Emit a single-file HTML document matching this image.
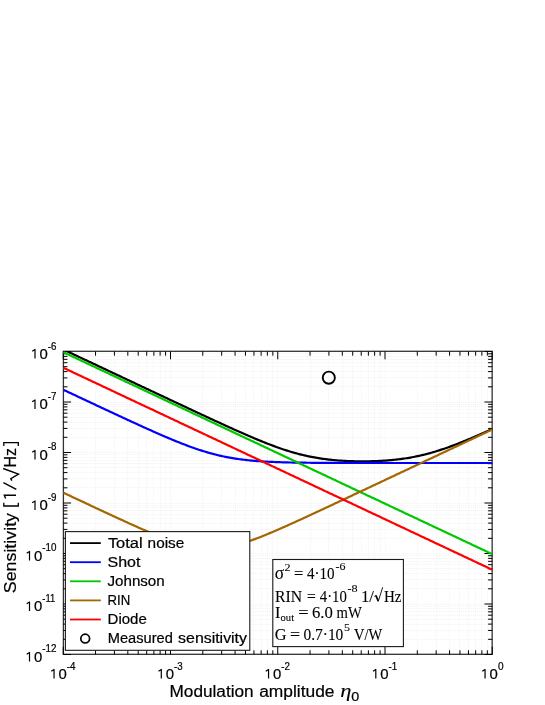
<!DOCTYPE html><html><head><meta charset="utf-8"><style>html,body{margin:0;padding:0;background:#fff;overflow:hidden}svg{display:block;will-change:transform}text{font-family:"Liberation Sans",sans-serif;fill:#000;white-space:pre;stroke:#000;stroke-width:0.2px}.s{font-family:"Liberation Serif",serif;stroke-width:0.1px}</style></head><body>
<svg width="545" height="705" viewBox="0 0 545 705">
<rect width="545" height="705" fill="#fff"/>
<defs><clipPath id="c"><rect x="63.25" y="350.90" width="429.60" height="303.60"/></clipPath></defs>
<path d="M63.50,351.50 V654.50 M95.50,351.50 V654.50 M114.50,351.50 V654.50 M127.50,351.50 V654.50 M138.50,351.50 V654.50 M146.50,351.50 V654.50 M153.50,351.50 V654.50 M160.50,351.50 V654.50 M165.50,351.50 V654.50 M170.50,351.50 V654.50 M202.50,351.50 V654.50 M221.50,351.50 V654.50 M235.50,351.50 V654.50 M245.50,351.50 V654.50 M253.50,351.50 V654.50 M261.50,351.50 V654.50 M267.50,351.50 V654.50 M272.50,351.50 V654.50 M277.50,351.50 V654.50 M310.50,351.50 V654.50 M328.50,351.50 V654.50 M342.50,351.50 V654.50 M352.50,351.50 V654.50 M361.50,351.50 V654.50 M368.50,351.50 V654.50 M374.50,351.50 V654.50 M380.50,351.50 V654.50 M385.50,351.50 V654.50 M417.50,351.50 V654.50 M436.50,351.50 V654.50 M449.50,351.50 V654.50 M459.50,351.50 V654.50 M468.50,351.50 V654.50 M475.50,351.50 V654.50 M481.50,351.50 V654.50 M487.50,351.50 V654.50 M492.50,351.50 V654.50 M63.25,654.50 H492.25 M63.25,639.50 H492.25 M63.25,630.50 H492.25 M63.25,624.50 H492.25 M63.25,619.50 H492.25 M63.25,615.50 H492.25 M63.25,611.50 H492.25 M63.25,608.50 H492.25 M63.25,606.50 H492.25 M63.25,604.50 H492.25 M63.25,588.50 H492.25 M63.25,579.50 H492.25 M63.25,573.50 H492.25 M63.25,568.50 H492.25 M63.25,564.50 H492.25 M63.25,561.50 H492.25 M63.25,558.50 H492.25 M63.25,555.50 H492.25 M63.25,553.50 H492.25 M63.25,538.50 H492.25 M63.25,529.50 H492.25 M63.25,523.50 H492.25 M63.25,518.50 H492.25 M63.25,514.50 H492.25 M63.25,510.50 H492.25 M63.25,507.50 H492.25 M63.25,505.50 H492.25 M63.25,503.50 H492.25 M63.25,487.50 H492.25 M63.25,478.50 H492.25 M63.25,472.50 H492.25 M63.25,467.50 H492.25 M63.25,463.50 H492.25 M63.25,460.50 H492.25 M63.25,457.50 H492.25 M63.25,454.50 H492.25 M63.25,452.50 H492.25 M63.25,437.50 H492.25 M63.25,428.50 H492.25 M63.25,422.50 H492.25 M63.25,417.50 H492.25 M63.25,413.50 H492.25 M63.25,409.50 H492.25 M63.25,406.50 H492.25 M63.25,404.50 H492.25 M63.25,402.50 H492.25 M63.25,386.50 H492.25 M63.25,377.50 H492.25 M63.25,371.50 H492.25 M63.25,366.50 H492.25 M63.25,362.50 H492.25 M63.25,359.50 H492.25 M63.25,356.50 H492.25 M63.25,353.50 H492.25 M63.25,351.50 H492.25" stroke="#f2f2f2" stroke-width="1" stroke-dasharray="1,1" fill="none"/>
<circle cx="328.8" cy="377.7" r="6.05" fill="none" stroke="#000" stroke-width="1.9"/>
<rect x="63.4" y="351.3" width="428.75" height="303.0" fill="none" stroke="#333" stroke-width="1.3"/>
<path d="M63.25,654.50 v-7.80 M63.25,351.50 v7.80 M95.54,654.50 v-4.20 M95.54,351.50 v4.20 M114.42,654.50 v-4.20 M114.42,351.50 v4.20 M127.82,654.50 v-4.20 M127.82,351.50 v4.20 M138.21,654.50 v-4.20 M138.21,351.50 v4.20 M146.71,654.50 v-4.20 M146.71,351.50 v4.20 M153.89,654.50 v-4.20 M153.89,351.50 v4.20 M160.11,654.50 v-4.20 M160.11,351.50 v4.20 M165.59,654.50 v-4.20 M165.59,351.50 v4.20 M170.50,654.50 v-7.80 M170.50,351.50 v7.80 M202.79,654.50 v-4.20 M202.79,351.50 v4.20 M221.67,654.50 v-4.20 M221.67,351.50 v4.20 M235.07,654.50 v-4.20 M235.07,351.50 v4.20 M245.46,654.50 v-4.20 M245.46,351.50 v4.20 M253.96,654.50 v-4.20 M253.96,351.50 v4.20 M261.14,654.50 v-4.20 M261.14,351.50 v4.20 M267.36,654.50 v-4.20 M267.36,351.50 v4.20 M272.84,654.50 v-4.20 M272.84,351.50 v4.20 M277.75,654.50 v-7.80 M277.75,351.50 v7.80 M310.04,654.50 v-4.20 M310.04,351.50 v4.20 M328.92,654.50 v-4.20 M328.92,351.50 v4.20 M342.32,654.50 v-4.20 M342.32,351.50 v4.20 M352.71,654.50 v-4.20 M352.71,351.50 v4.20 M361.21,654.50 v-4.20 M361.21,351.50 v4.20 M368.39,654.50 v-4.20 M368.39,351.50 v4.20 M374.61,654.50 v-4.20 M374.61,351.50 v4.20 M380.09,654.50 v-4.20 M380.09,351.50 v4.20 M385.00,654.50 v-7.80 M385.00,351.50 v7.80 M417.29,654.50 v-4.20 M417.29,351.50 v4.20 M436.17,654.50 v-4.20 M436.17,351.50 v4.20 M449.57,654.50 v-4.20 M449.57,351.50 v4.20 M459.96,654.50 v-4.20 M459.96,351.50 v4.20 M468.46,654.50 v-4.20 M468.46,351.50 v4.20 M475.64,654.50 v-4.20 M475.64,351.50 v4.20 M481.86,654.50 v-4.20 M481.86,351.50 v4.20 M487.34,654.50 v-4.20 M487.34,351.50 v4.20 M492.25,654.50 v-7.80 M492.25,351.50 v7.80 M63.25,654.50 h7.80 M492.25,654.50 h-7.80 M63.25,639.30 h4.20 M492.25,639.30 h-4.20 M63.25,630.41 h4.20 M492.25,630.41 h-4.20 M63.25,624.10 h4.20 M492.25,624.10 h-4.20 M63.25,619.20 h4.20 M492.25,619.20 h-4.20 M63.25,615.20 h4.20 M492.25,615.20 h-4.20 M63.25,611.82 h4.20 M492.25,611.82 h-4.20 M63.25,608.89 h4.20 M492.25,608.89 h-4.20 M63.25,606.31 h4.20 M492.25,606.31 h-4.20 M63.25,604.00 h7.80 M492.25,604.00 h-7.80 M63.25,588.80 h4.20 M492.25,588.80 h-4.20 M63.25,579.91 h4.20 M492.25,579.91 h-4.20 M63.25,573.60 h4.20 M492.25,573.60 h-4.20 M63.25,568.70 h4.20 M492.25,568.70 h-4.20 M63.25,564.70 h4.20 M492.25,564.70 h-4.20 M63.25,561.32 h4.20 M492.25,561.32 h-4.20 M63.25,558.39 h4.20 M492.25,558.39 h-4.20 M63.25,555.81 h4.20 M492.25,555.81 h-4.20 M63.25,553.50 h7.80 M492.25,553.50 h-7.80 M63.25,538.30 h4.20 M492.25,538.30 h-4.20 M63.25,529.41 h4.20 M492.25,529.41 h-4.20 M63.25,523.10 h4.20 M492.25,523.10 h-4.20 M63.25,518.20 h4.20 M492.25,518.20 h-4.20 M63.25,514.20 h4.20 M492.25,514.20 h-4.20 M63.25,510.82 h4.20 M492.25,510.82 h-4.20 M63.25,507.89 h4.20 M492.25,507.89 h-4.20 M63.25,505.31 h4.20 M492.25,505.31 h-4.20 M63.25,503.00 h7.80 M492.25,503.00 h-7.80 M63.25,487.80 h4.20 M492.25,487.80 h-4.20 M63.25,478.91 h4.20 M492.25,478.91 h-4.20 M63.25,472.60 h4.20 M492.25,472.60 h-4.20 M63.25,467.70 h4.20 M492.25,467.70 h-4.20 M63.25,463.70 h4.20 M492.25,463.70 h-4.20 M63.25,460.32 h4.20 M492.25,460.32 h-4.20 M63.25,457.39 h4.20 M492.25,457.39 h-4.20 M63.25,454.81 h4.20 M492.25,454.81 h-4.20 M63.25,452.50 h7.80 M492.25,452.50 h-7.80 M63.25,437.30 h4.20 M492.25,437.30 h-4.20 M63.25,428.41 h4.20 M492.25,428.41 h-4.20 M63.25,422.10 h4.20 M492.25,422.10 h-4.20 M63.25,417.20 h4.20 M492.25,417.20 h-4.20 M63.25,413.20 h4.20 M492.25,413.20 h-4.20 M63.25,409.82 h4.20 M492.25,409.82 h-4.20 M63.25,406.89 h4.20 M492.25,406.89 h-4.20 M63.25,404.31 h4.20 M492.25,404.31 h-4.20 M63.25,402.00 h7.80 M492.25,402.00 h-7.80 M63.25,386.80 h4.20 M492.25,386.80 h-4.20 M63.25,377.91 h4.20 M492.25,377.91 h-4.20 M63.25,371.60 h4.20 M492.25,371.60 h-4.20 M63.25,366.70 h4.20 M492.25,366.70 h-4.20 M63.25,362.70 h4.20 M492.25,362.70 h-4.20 M63.25,359.32 h4.20 M492.25,359.32 h-4.20 M63.25,356.39 h4.20 M492.25,356.39 h-4.20 M63.25,353.81 h4.20 M492.25,353.81 h-4.20 M63.25,351.50 h7.80 M492.25,351.50 h-7.80" stroke="#000" stroke-width="1" fill="none"/>
<g clip-path="url(#c)" fill="none" stroke-width="2.2" stroke-linejoin="round">
<path d="M63.25,349.51 L64.68,350.18 L66.12,350.86 L67.55,351.54 L68.99,352.21 L70.42,352.89 L71.86,353.56 L73.29,354.24 L74.73,354.91 L76.16,355.59 L77.60,356.26 L79.03,356.94 L80.47,357.62 L81.90,358.29 L83.34,358.97 L84.77,359.64 L86.21,360.32 L87.64,360.99 L89.08,361.67 L90.51,362.34 L91.95,363.02 L93.38,363.70 L94.82,364.37 L96.25,365.05 L97.68,365.72 L99.12,366.40 L100.55,367.07 L101.99,367.75 L103.42,368.42 L104.86,369.10 L106.29,369.77 L107.73,370.45 L109.16,371.13 L110.60,371.80 L112.03,372.48 L113.47,373.15 L114.90,373.83 L116.34,374.50 L117.77,375.18 L119.21,375.85 L120.64,376.53 L122.08,377.20 L123.51,377.88 L124.95,378.55 L126.38,379.23 L127.82,379.91 L129.25,380.58 L130.68,381.26 L132.12,381.93 L133.55,382.61 L134.99,383.28 L136.42,383.96 L137.86,384.63 L139.29,385.31 L140.73,385.98 L142.16,386.66 L143.60,387.33 L145.03,388.01 L146.47,388.68 L147.90,389.36 L149.34,390.03 L150.77,390.70 L152.21,391.38 L153.64,392.05 L155.08,392.73 L156.51,393.40 L157.95,394.08 L159.38,394.75 L160.82,395.43 L162.25,396.10 L163.68,396.77 L165.12,397.45 L166.55,398.12 L167.99,398.80 L169.42,399.47 L170.86,400.14 L172.29,400.82 L173.73,401.49 L175.16,402.16 L176.60,402.83 L178.03,403.51 L179.47,404.18 L180.90,404.85 L182.34,405.52 L183.77,406.20 L185.21,406.87 L186.64,407.54 L188.08,408.21 L189.51,408.88 L190.95,409.55 L192.38,410.22 L193.82,410.89 L195.25,411.56 L196.68,412.23 L198.12,412.90 L199.55,413.57 L200.99,414.24 L202.42,414.90 L203.86,415.57 L205.29,416.24 L206.73,416.90 L208.16,417.57 L209.60,418.23 L211.03,418.90 L212.47,419.56 L213.90,420.22 L215.34,420.88 L216.77,421.54 L218.21,422.20 L219.64,422.86 L221.08,423.52 L222.51,424.18 L223.95,424.83 L225.38,425.49 L226.82,426.14 L228.25,426.79 L229.68,427.44 L231.12,428.09 L232.55,428.73 L233.99,429.38 L235.42,430.02 L236.86,430.66 L238.29,431.30 L239.73,431.94 L241.16,432.57 L242.60,433.21 L244.03,433.84 L245.47,434.46 L246.90,435.09 L248.34,435.71 L249.77,436.33 L251.21,436.94 L252.64,437.55 L254.08,438.16 L255.51,438.76 L256.95,439.36 L258.38,439.95 L259.82,440.55 L261.25,441.13 L262.68,441.71 L264.12,442.29 L265.55,442.86 L266.99,443.42 L268.42,443.98 L269.86,444.53 L271.29,445.08 L272.73,445.62 L274.16,446.15 L275.60,446.68 L277.03,447.20 L278.47,447.71 L279.90,448.21 L281.34,448.71 L282.77,449.19 L284.21,449.67 L285.64,450.14 L287.08,450.60 L288.51,451.05 L289.95,451.49 L291.38,451.93 L292.82,452.35 L294.25,452.76 L295.68,453.16 L297.12,453.56 L298.55,453.94 L299.99,454.31 L301.42,454.67 L302.86,455.02 L304.29,455.36 L305.73,455.69 L307.16,456.00 L308.60,456.31 L310.03,456.61 L311.47,456.90 L312.90,457.17 L314.34,457.44 L315.77,457.69 L317.21,457.94 L318.64,458.17 L320.08,458.39 L321.51,458.61 L322.95,458.81 L324.38,459.01 L325.82,459.19 L327.25,459.37 L328.68,459.54 L330.12,459.70 L331.55,459.85 L332.99,459.99 L334.42,460.13 L335.86,460.25 L337.29,460.37 L338.73,460.48 L340.16,460.58 L341.60,460.68 L343.03,460.77 L344.47,460.85 L345.90,460.92 L347.34,460.99 L348.77,461.05 L350.21,461.11 L351.64,461.16 L353.08,461.20 L354.51,461.24 L355.95,461.27 L357.38,461.29 L358.82,461.31 L360.25,461.32 L361.68,461.33 L363.12,461.33 L364.55,461.33 L365.99,461.32 L367.42,461.30 L368.86,461.28 L370.29,461.25 L371.73,461.22 L373.16,461.18 L374.60,461.13 L376.03,461.08 L377.47,461.02 L378.90,460.96 L380.34,460.88 L381.77,460.80 L383.21,460.72 L384.64,460.63 L386.08,460.53 L387.51,460.42 L388.95,460.31 L390.38,460.18 L391.82,460.05 L393.25,459.91 L394.68,459.77 L396.12,459.61 L397.55,459.45 L398.99,459.28 L400.42,459.09 L401.86,458.90 L403.29,458.70 L404.73,458.49 L406.16,458.27 L407.60,458.04 L409.03,457.80 L410.47,457.55 L411.90,457.29 L413.34,457.02 L414.77,456.74 L416.21,456.45 L417.64,456.14 L419.08,455.83 L420.51,455.51 L421.95,455.17 L423.38,454.83 L424.82,454.47 L426.25,454.10 L427.68,453.73 L429.12,453.34 L430.55,452.94 L431.99,452.53 L433.42,452.12 L434.86,451.69 L436.29,451.25 L437.73,450.80 L439.16,450.35 L440.60,449.88 L442.03,449.41 L443.47,448.93 L444.90,448.43 L446.34,447.93 L447.77,447.43 L449.21,446.91 L450.64,446.39 L452.08,445.86 L453.51,445.32 L454.95,444.78 L456.38,444.23 L457.82,443.67 L459.25,443.11 L460.68,442.54 L462.12,441.97 L463.55,441.39 L464.99,440.81 L466.42,440.22 L467.86,439.63 L469.29,439.03 L470.73,438.43 L472.16,437.82 L473.60,437.21 L475.03,436.60 L476.47,435.98 L477.90,435.36 L479.34,434.74 L480.77,434.12 L482.21,433.49 L483.64,432.86 L485.08,432.22 L486.51,431.59 L487.95,430.95 L489.38,430.31 L490.82,429.67 L492.25,429.02" stroke="#000"/>
<path d="M63.25,389.71 L64.68,390.39 L66.12,391.06 L67.55,391.74 L68.99,392.41 L70.42,393.09 L71.86,393.76 L73.29,394.43 L74.73,395.11 L76.16,395.78 L77.60,396.46 L79.03,397.13 L80.47,397.80 L81.90,398.48 L83.34,399.15 L84.77,399.83 L86.21,400.50 L87.64,401.17 L89.08,401.85 L90.51,402.52 L91.95,403.19 L93.38,403.86 L94.82,404.54 L96.25,405.21 L97.68,405.88 L99.12,406.55 L100.55,407.22 L101.99,407.89 L103.42,408.57 L104.86,409.24 L106.29,409.91 L107.73,410.58 L109.16,411.25 L110.60,411.92 L112.03,412.59 L113.47,413.25 L114.90,413.92 L116.34,414.59 L117.77,415.26 L119.21,415.92 L120.64,416.59 L122.08,417.25 L123.51,417.92 L124.95,418.58 L126.38,419.25 L127.82,419.91 L129.25,420.57 L130.68,421.23 L132.12,421.89 L133.55,422.55 L134.99,423.21 L136.42,423.87 L137.86,424.52 L139.29,425.18 L140.73,425.83 L142.16,426.48 L143.60,427.13 L145.03,427.78 L146.47,428.43 L147.90,429.08 L149.34,429.72 L150.77,430.36 L152.21,431.00 L153.64,431.64 L155.08,432.28 L156.51,432.91 L157.95,433.54 L159.38,434.17 L160.82,434.79 L162.25,435.42 L163.68,436.04 L165.12,436.65 L166.55,437.26 L167.99,437.87 L169.42,438.48 L170.86,439.08 L172.29,439.68 L173.73,440.27 L175.16,440.86 L176.60,441.44 L178.03,442.02 L179.47,442.59 L180.90,443.16 L182.34,443.72 L183.77,444.28 L185.21,444.83 L186.64,445.37 L188.08,445.91 L189.51,446.44 L190.95,446.96 L192.38,447.48 L193.82,447.98 L195.25,448.48 L196.68,448.97 L198.12,449.46 L199.55,449.93 L200.99,450.40 L202.42,450.85 L203.86,451.30 L205.29,451.74 L206.73,452.17 L208.16,452.59 L209.60,453.00 L211.03,453.39 L212.47,453.78 L213.90,454.16 L215.34,454.53 L216.77,454.89 L218.21,455.24 L219.64,455.57 L221.08,455.90 L222.51,456.22 L223.95,456.52 L225.38,456.82 L226.82,457.10 L228.25,457.38 L229.68,457.64 L231.12,457.90 L232.55,458.14 L233.99,458.38 L235.42,458.61 L236.86,458.83 L238.29,459.03 L239.73,459.23 L241.16,459.43 L242.60,459.61 L244.03,459.78 L245.47,459.95 L246.90,460.11 L248.34,460.26 L249.77,460.41 L251.21,460.55 L252.64,460.68 L254.08,460.80 L255.51,460.92 L256.95,461.03 L258.38,461.14 L259.82,461.24 L261.25,461.34 L262.68,461.43 L264.12,461.52 L265.55,461.60 L266.99,461.68 L268.42,461.75 L269.86,461.82 L271.29,461.89 L272.73,461.95 L274.16,462.01 L275.60,462.07 L277.03,462.12 L278.47,462.17 L279.90,462.22 L281.34,462.26 L282.77,462.30 L284.21,462.34 L285.64,462.38 L287.08,462.41 L288.51,462.45 L289.95,462.48 L291.38,462.51 L292.82,462.54 L294.25,462.56 L295.68,462.59 L297.12,462.61 L298.55,462.63 L299.99,462.65 L301.42,462.67 L302.86,462.69 L304.29,462.71 L305.73,462.72 L307.16,462.74 L308.60,462.75 L310.03,462.77 L311.47,462.78 L312.90,462.79 L314.34,462.80 L315.77,462.81 L317.21,462.82 L318.64,462.83 L320.08,462.84 L321.51,462.85 L322.95,462.86 L324.38,462.87 L325.82,462.87 L327.25,462.88 L328.68,462.89 L330.12,462.89 L331.55,462.90 L332.99,462.90 L334.42,462.91 L335.86,462.91 L337.29,462.92 L338.73,462.92 L340.16,462.92 L341.60,462.93 L343.03,462.93 L344.47,462.93 L345.90,462.94 L347.34,462.94 L348.77,462.94 L350.21,462.95 L351.64,462.95 L353.08,462.95 L354.51,462.95 L355.95,462.95 L357.38,462.96 L358.82,462.96 L360.25,462.96 L361.68,462.96 L363.12,462.96 L364.55,462.96 L365.99,462.96 L367.42,462.97 L368.86,462.97 L370.29,462.97 L371.73,462.97 L373.16,462.97 L374.60,462.97 L376.03,462.97 L377.47,462.97 L378.90,462.97 L380.34,462.97 L381.77,462.97 L383.21,462.97 L384.64,462.98 L386.08,462.98 L387.51,462.98 L388.95,462.98 L390.38,462.98 L391.82,462.98 L393.25,462.98 L394.68,462.98 L396.12,462.98 L397.55,462.98 L398.99,462.98 L400.42,462.98 L401.86,462.98 L403.29,462.98 L404.73,462.98 L406.16,462.98 L407.60,462.98 L409.03,462.98 L410.47,462.98 L411.90,462.98 L413.34,462.98 L414.77,462.98 L416.21,462.98 L417.64,462.98 L419.08,462.98 L420.51,462.98 L421.95,462.98 L423.38,462.98 L424.82,462.98 L426.25,462.98 L427.68,462.98 L429.12,462.98 L430.55,462.98 L431.99,462.98 L433.42,462.98 L434.86,462.98 L436.29,462.98 L437.73,462.98 L439.16,462.98 L440.60,462.98 L442.03,462.98 L443.47,462.98 L444.90,462.98 L446.34,462.98 L447.77,462.98 L449.21,462.98 L450.64,462.98 L452.08,462.98 L453.51,462.98 L454.95,462.98 L456.38,462.98 L457.82,462.98 L459.25,462.98 L460.68,462.98 L462.12,462.98 L463.55,462.98 L464.99,462.98 L466.42,462.98 L467.86,462.98 L469.29,462.98 L470.73,462.98 L472.16,462.98 L473.60,462.98 L475.03,462.98 L476.47,462.98 L477.90,462.98 L479.34,462.98 L480.77,462.98 L482.21,462.98 L483.64,462.98 L485.08,462.98 L486.51,462.98 L487.95,462.98 L489.38,462.98 L490.82,462.98 L492.25,462.98" stroke="#0000ff"/>
<path d="M63.25,352.17 L64.68,352.84 L66.12,353.52 L67.55,354.19 L68.99,354.87 L70.42,355.55 L71.86,356.22 L73.29,356.90 L74.73,357.57 L76.16,358.25 L77.60,358.92 L79.03,359.60 L80.47,360.28 L81.90,360.95 L83.34,361.63 L84.77,362.30 L86.21,362.98 L87.64,363.65 L89.08,364.33 L90.51,365.00 L91.95,365.68 L93.38,366.36 L94.82,367.03 L96.25,367.71 L97.68,368.38 L99.12,369.06 L100.55,369.73 L101.99,370.41 L103.42,371.08 L104.86,371.76 L106.29,372.44 L107.73,373.11 L109.16,373.79 L110.60,374.46 L112.03,375.14 L113.47,375.81 L114.90,376.49 L116.34,377.16 L117.77,377.84 L119.21,378.52 L120.64,379.19 L122.08,379.87 L123.51,380.54 L124.95,381.22 L126.38,381.89 L127.82,382.57 L129.25,383.24 L130.68,383.92 L132.12,384.60 L133.55,385.27 L134.99,385.95 L136.42,386.62 L137.86,387.30 L139.29,387.97 L140.73,388.65 L142.16,389.33 L143.60,390.00 L145.03,390.68 L146.47,391.35 L147.90,392.03 L149.34,392.70 L150.77,393.38 L152.21,394.05 L153.64,394.73 L155.08,395.41 L156.51,396.08 L157.95,396.76 L159.38,397.43 L160.82,398.11 L162.25,398.78 L163.68,399.46 L165.12,400.13 L166.55,400.81 L167.99,401.49 L169.42,402.16 L170.86,402.84 L172.29,403.51 L173.73,404.19 L175.16,404.86 L176.60,405.54 L178.03,406.21 L179.47,406.89 L180.90,407.57 L182.34,408.24 L183.77,408.92 L185.21,409.59 L186.64,410.27 L188.08,410.94 L189.51,411.62 L190.95,412.30 L192.38,412.97 L193.82,413.65 L195.25,414.32 L196.68,415.00 L198.12,415.67 L199.55,416.35 L200.99,417.02 L202.42,417.70 L203.86,418.38 L205.29,419.05 L206.73,419.73 L208.16,420.40 L209.60,421.08 L211.03,421.75 L212.47,422.43 L213.90,423.10 L215.34,423.78 L216.77,424.46 L218.21,425.13 L219.64,425.81 L221.08,426.48 L222.51,427.16 L223.95,427.83 L225.38,428.51 L226.82,429.18 L228.25,429.86 L229.68,430.54 L231.12,431.21 L232.55,431.89 L233.99,432.56 L235.42,433.24 L236.86,433.91 L238.29,434.59 L239.73,435.27 L241.16,435.94 L242.60,436.62 L244.03,437.29 L245.47,437.97 L246.90,438.64 L248.34,439.32 L249.77,439.99 L251.21,440.67 L252.64,441.35 L254.08,442.02 L255.51,442.70 L256.95,443.37 L258.38,444.05 L259.82,444.72 L261.25,445.40 L262.68,446.07 L264.12,446.75 L265.55,447.43 L266.99,448.10 L268.42,448.78 L269.86,449.45 L271.29,450.13 L272.73,450.80 L274.16,451.48 L275.60,452.15 L277.03,452.83 L278.47,453.51 L279.90,454.18 L281.34,454.86 L282.77,455.53 L284.21,456.21 L285.64,456.88 L287.08,457.56 L288.51,458.23 L289.95,458.91 L291.38,459.59 L292.82,460.26 L294.25,460.94 L295.68,461.61 L297.12,462.29 L298.55,462.96 L299.99,463.64 L301.42,464.32 L302.86,464.99 L304.29,465.67 L305.73,466.34 L307.16,467.02 L308.60,467.69 L310.03,468.37 L311.47,469.04 L312.90,469.72 L314.34,470.40 L315.77,471.07 L317.21,471.75 L318.64,472.42 L320.08,473.10 L321.51,473.77 L322.95,474.45 L324.38,475.12 L325.82,475.80 L327.25,476.48 L328.68,477.15 L330.12,477.83 L331.55,478.50 L332.99,479.18 L334.42,479.85 L335.86,480.53 L337.29,481.20 L338.73,481.88 L340.16,482.56 L341.60,483.23 L343.03,483.91 L344.47,484.58 L345.90,485.26 L347.34,485.93 L348.77,486.61 L350.21,487.29 L351.64,487.96 L353.08,488.64 L354.51,489.31 L355.95,489.99 L357.38,490.66 L358.82,491.34 L360.25,492.01 L361.68,492.69 L363.12,493.37 L364.55,494.04 L365.99,494.72 L367.42,495.39 L368.86,496.07 L370.29,496.74 L371.73,497.42 L373.16,498.09 L374.60,498.77 L376.03,499.45 L377.47,500.12 L378.90,500.80 L380.34,501.47 L381.77,502.15 L383.21,502.82 L384.64,503.50 L386.08,504.17 L387.51,504.85 L388.95,505.53 L390.38,506.20 L391.82,506.88 L393.25,507.55 L394.68,508.23 L396.12,508.90 L397.55,509.58 L398.99,510.25 L400.42,510.93 L401.86,511.61 L403.29,512.28 L404.73,512.96 L406.16,513.63 L407.60,514.31 L409.03,514.98 L410.47,515.66 L411.90,516.34 L413.34,517.01 L414.77,517.69 L416.21,518.36 L417.64,519.04 L419.08,519.71 L420.51,520.39 L421.95,521.06 L423.38,521.74 L424.82,522.42 L426.25,523.09 L427.68,523.77 L429.12,524.44 L430.55,525.12 L431.99,525.79 L433.42,526.47 L434.86,527.14 L436.29,527.82 L437.73,528.50 L439.16,529.17 L440.60,529.85 L442.03,530.52 L443.47,531.20 L444.90,531.87 L446.34,532.55 L447.77,533.22 L449.21,533.90 L450.64,534.58 L452.08,535.25 L453.51,535.93 L454.95,536.60 L456.38,537.28 L457.82,537.95 L459.25,538.63 L460.68,539.31 L462.12,539.98 L463.55,540.66 L464.99,541.33 L466.42,542.01 L467.86,542.68 L469.29,543.36 L470.73,544.03 L472.16,544.71 L473.60,545.39 L475.03,546.06 L476.47,546.74 L477.90,547.41 L479.34,548.09 L480.77,548.76 L482.21,549.44 L483.64,550.11 L485.08,550.79 L486.51,551.47 L487.95,552.14 L489.38,552.82 L490.82,553.49 L492.25,554.17" stroke="#00c800"/>
<path d="M63.25,492.68 L64.68,493.35 L66.12,494.02 L67.55,494.70 L68.99,495.37 L70.42,496.05 L71.86,496.72 L73.29,497.39 L74.73,498.07 L76.16,498.74 L77.60,499.42 L79.03,500.09 L80.47,500.76 L81.90,501.43 L83.34,502.11 L84.77,502.78 L86.21,503.45 L87.64,504.12 L89.08,504.80 L90.51,505.47 L91.95,506.14 L93.38,506.81 L94.82,507.48 L96.25,508.15 L97.68,508.82 L99.12,509.49 L100.55,510.16 L101.99,510.83 L103.42,511.50 L104.86,512.16 L106.29,512.83 L107.73,513.50 L109.16,514.16 L110.60,514.83 L112.03,515.49 L113.47,516.16 L114.90,516.82 L116.34,517.48 L117.77,518.14 L119.21,518.80 L120.64,519.46 L122.08,520.12 L123.51,520.77 L124.95,521.43 L126.38,522.08 L127.82,522.73 L129.25,523.38 L130.68,524.03 L132.12,524.68 L133.55,525.32 L134.99,525.96 L136.42,526.60 L137.86,527.24 L139.29,527.88 L140.73,528.51 L142.16,529.14 L143.60,529.76 L145.03,530.38 L146.47,531.00 L147.90,531.62 L149.34,532.23 L150.77,532.83 L152.21,533.44 L153.64,534.03 L155.08,534.62 L156.51,535.21 L157.95,535.79 L159.38,536.36 L160.82,536.93 L162.25,537.49 L163.68,538.04 L165.12,538.58 L166.55,539.12 L167.99,539.65 L169.42,540.16 L170.86,540.67 L172.29,541.17 L173.73,541.65 L175.16,542.13 L176.60,542.59 L178.03,543.04 L179.47,543.47 L180.90,543.90 L182.34,544.30 L183.77,544.70 L185.21,545.07 L186.64,545.43 L188.08,545.78 L189.51,546.10 L190.95,546.41 L192.38,546.70 L193.82,546.97 L195.25,547.22 L196.68,547.45 L198.12,547.66 L199.55,547.85 L200.99,548.01 L202.42,548.15 L203.86,548.28 L205.29,548.37 L206.73,548.45 L208.16,548.50 L209.60,548.53 L211.03,548.54 L212.47,548.52 L213.90,548.48 L215.34,548.42 L216.77,548.33 L218.21,548.22 L219.64,548.09 L221.08,547.93 L222.51,547.76 L223.95,547.56 L225.38,547.34 L226.82,547.10 L228.25,546.84 L229.68,546.56 L231.12,546.26 L232.55,545.95 L233.99,545.61 L235.42,545.26 L236.86,544.89 L238.29,544.51 L239.73,544.11 L241.16,543.69 L242.60,543.26 L244.03,542.82 L245.47,542.36 L246.90,541.89 L248.34,541.41 L249.77,540.92 L251.21,540.42 L252.64,539.91 L254.08,539.39 L255.51,538.86 L256.95,538.32 L258.38,537.77 L259.82,537.21 L261.25,536.65 L262.68,536.08 L264.12,535.50 L265.55,534.92 L266.99,534.33 L268.42,533.74 L269.86,533.14 L271.29,532.54 L272.73,531.93 L274.16,531.32 L275.60,530.70 L277.03,530.08 L278.47,529.45 L279.90,528.83 L281.34,528.20 L282.77,527.56 L284.21,526.93 L285.64,526.29 L287.08,525.65 L288.51,525.01 L289.95,524.36 L291.38,523.71 L292.82,523.06 L294.25,522.41 L295.68,521.76 L297.12,521.11 L298.55,520.45 L299.99,519.79 L301.42,519.14 L302.86,518.48 L304.29,517.82 L305.73,517.15 L307.16,516.49 L308.60,515.83 L310.03,515.17 L311.47,514.50 L312.90,513.84 L314.34,513.17 L315.77,512.50 L317.21,511.84 L318.64,511.17 L320.08,510.50 L321.51,509.83 L322.95,509.16 L324.38,508.49 L325.82,507.82 L327.25,507.15 L328.68,506.48 L330.12,505.81 L331.55,505.14 L332.99,504.47 L334.42,503.79 L335.86,503.12 L337.29,502.45 L338.73,501.78 L340.16,501.10 L341.60,500.43 L343.03,499.76 L344.47,499.08 L345.90,498.41 L347.34,497.74 L348.77,497.06 L350.21,496.39 L351.64,495.72 L353.08,495.04 L354.51,494.37 L355.95,493.69 L357.38,493.02 L358.82,492.34 L360.25,491.67 L361.68,490.99 L363.12,490.32 L364.55,489.65 L365.99,488.97 L367.42,488.30 L368.86,487.62 L370.29,486.95 L371.73,486.27 L373.16,485.60 L374.60,484.92 L376.03,484.25 L377.47,483.57 L378.90,482.90 L380.34,482.22 L381.77,481.55 L383.21,480.87 L384.64,480.19 L386.08,479.52 L387.51,478.84 L388.95,478.17 L390.38,477.49 L391.82,476.82 L393.25,476.14 L394.68,475.47 L396.12,474.79 L397.55,474.12 L398.99,473.44 L400.42,472.77 L401.86,472.09 L403.29,471.41 L404.73,470.74 L406.16,470.06 L407.60,469.39 L409.03,468.71 L410.47,468.04 L411.90,467.36 L413.34,466.69 L414.77,466.01 L416.21,465.34 L417.64,464.66 L419.08,463.98 L420.51,463.31 L421.95,462.63 L423.38,461.96 L424.82,461.28 L426.25,460.61 L427.68,459.93 L429.12,459.26 L430.55,458.58 L431.99,457.90 L433.42,457.23 L434.86,456.55 L436.29,455.88 L437.73,455.20 L439.16,454.53 L440.60,453.85 L442.03,453.18 L443.47,452.50 L444.90,451.82 L446.34,451.15 L447.77,450.47 L449.21,449.80 L450.64,449.12 L452.08,448.45 L453.51,447.77 L454.95,447.10 L456.38,446.42 L457.82,445.74 L459.25,445.07 L460.68,444.39 L462.12,443.72 L463.55,443.04 L464.99,442.37 L466.42,441.69 L467.86,441.02 L469.29,440.34 L470.73,439.66 L472.16,438.99 L473.60,438.31 L475.03,437.64 L476.47,436.96 L477.90,436.29 L479.34,435.61 L480.77,434.93 L482.21,434.26 L483.64,433.58 L485.08,432.91 L486.51,432.23 L487.95,431.56 L489.38,430.88 L490.82,430.21 L492.25,429.53" stroke="#a36600"/>
<path d="M63.25,367.73 L64.68,368.41 L66.12,369.09 L67.55,369.76 L68.99,370.44 L70.42,371.11 L71.86,371.79 L73.29,372.46 L74.73,373.14 L76.16,373.82 L77.60,374.49 L79.03,375.17 L80.47,375.84 L81.90,376.52 L83.34,377.19 L84.77,377.87 L86.21,378.54 L87.64,379.22 L89.08,379.90 L90.51,380.57 L91.95,381.25 L93.38,381.92 L94.82,382.60 L96.25,383.27 L97.68,383.95 L99.12,384.62 L100.55,385.30 L101.99,385.98 L103.42,386.65 L104.86,387.33 L106.29,388.00 L107.73,388.68 L109.16,389.35 L110.60,390.03 L112.03,390.70 L113.47,391.38 L114.90,392.06 L116.34,392.73 L117.77,393.41 L119.21,394.08 L120.64,394.76 L122.08,395.43 L123.51,396.11 L124.95,396.78 L126.38,397.46 L127.82,398.14 L129.25,398.81 L130.68,399.49 L132.12,400.16 L133.55,400.84 L134.99,401.51 L136.42,402.19 L137.86,402.87 L139.29,403.54 L140.73,404.22 L142.16,404.89 L143.60,405.57 L145.03,406.24 L146.47,406.92 L147.90,407.59 L149.34,408.27 L150.77,408.95 L152.21,409.62 L153.64,410.30 L155.08,410.97 L156.51,411.65 L157.95,412.32 L159.38,413.00 L160.82,413.67 L162.25,414.35 L163.68,415.03 L165.12,415.70 L166.55,416.38 L167.99,417.05 L169.42,417.73 L170.86,418.40 L172.29,419.08 L173.73,419.75 L175.16,420.43 L176.60,421.11 L178.03,421.78 L179.47,422.46 L180.90,423.13 L182.34,423.81 L183.77,424.48 L185.21,425.16 L186.64,425.84 L188.08,426.51 L189.51,427.19 L190.95,427.86 L192.38,428.54 L193.82,429.21 L195.25,429.89 L196.68,430.56 L198.12,431.24 L199.55,431.92 L200.99,432.59 L202.42,433.27 L203.86,433.94 L205.29,434.62 L206.73,435.29 L208.16,435.97 L209.60,436.64 L211.03,437.32 L212.47,438.00 L213.90,438.67 L215.34,439.35 L216.77,440.02 L218.21,440.70 L219.64,441.37 L221.08,442.05 L222.51,442.72 L223.95,443.40 L225.38,444.08 L226.82,444.75 L228.25,445.43 L229.68,446.10 L231.12,446.78 L232.55,447.45 L233.99,448.13 L235.42,448.81 L236.86,449.48 L238.29,450.16 L239.73,450.83 L241.16,451.51 L242.60,452.18 L244.03,452.86 L245.47,453.53 L246.90,454.21 L248.34,454.89 L249.77,455.56 L251.21,456.24 L252.64,456.91 L254.08,457.59 L255.51,458.26 L256.95,458.94 L258.38,459.61 L259.82,460.29 L261.25,460.97 L262.68,461.64 L264.12,462.32 L265.55,462.99 L266.99,463.67 L268.42,464.34 L269.86,465.02 L271.29,465.69 L272.73,466.37 L274.16,467.05 L275.60,467.72 L277.03,468.40 L278.47,469.07 L279.90,469.75 L281.34,470.42 L282.77,471.10 L284.21,471.77 L285.64,472.45 L287.08,473.13 L288.51,473.80 L289.95,474.48 L291.38,475.15 L292.82,475.83 L294.25,476.50 L295.68,477.18 L297.12,477.86 L298.55,478.53 L299.99,479.21 L301.42,479.88 L302.86,480.56 L304.29,481.23 L305.73,481.91 L307.16,482.58 L308.60,483.26 L310.03,483.94 L311.47,484.61 L312.90,485.29 L314.34,485.96 L315.77,486.64 L317.21,487.31 L318.64,487.99 L320.08,488.66 L321.51,489.34 L322.95,490.02 L324.38,490.69 L325.82,491.37 L327.25,492.04 L328.68,492.72 L330.12,493.39 L331.55,494.07 L332.99,494.74 L334.42,495.42 L335.86,496.10 L337.29,496.77 L338.73,497.45 L340.16,498.12 L341.60,498.80 L343.03,499.47 L344.47,500.15 L345.90,500.83 L347.34,501.50 L348.77,502.18 L350.21,502.85 L351.64,503.53 L353.08,504.20 L354.51,504.88 L355.95,505.55 L357.38,506.23 L358.82,506.91 L360.25,507.58 L361.68,508.26 L363.12,508.93 L364.55,509.61 L365.99,510.28 L367.42,510.96 L368.86,511.63 L370.29,512.31 L371.73,512.99 L373.16,513.66 L374.60,514.34 L376.03,515.01 L377.47,515.69 L378.90,516.36 L380.34,517.04 L381.77,517.71 L383.21,518.39 L384.64,519.07 L386.08,519.74 L387.51,520.42 L388.95,521.09 L390.38,521.77 L391.82,522.44 L393.25,523.12 L394.68,523.80 L396.12,524.47 L397.55,525.15 L398.99,525.82 L400.42,526.50 L401.86,527.17 L403.29,527.85 L404.73,528.52 L406.16,529.20 L407.60,529.88 L409.03,530.55 L410.47,531.23 L411.90,531.90 L413.34,532.58 L414.77,533.25 L416.21,533.93 L417.64,534.60 L419.08,535.28 L420.51,535.96 L421.95,536.63 L423.38,537.31 L424.82,537.98 L426.25,538.66 L427.68,539.33 L429.12,540.01 L430.55,540.68 L431.99,541.36 L433.42,542.04 L434.86,542.71 L436.29,543.39 L437.73,544.06 L439.16,544.74 L440.60,545.41 L442.03,546.09 L443.47,546.76 L444.90,547.44 L446.34,548.12 L447.77,548.79 L449.21,549.47 L450.64,550.14 L452.08,550.82 L453.51,551.49 L454.95,552.17 L456.38,552.85 L457.82,553.52 L459.25,554.20 L460.68,554.87 L462.12,555.55 L463.55,556.22 L464.99,556.90 L466.42,557.57 L467.86,558.25 L469.29,558.93 L470.73,559.60 L472.16,560.28 L473.60,560.95 L475.03,561.63 L476.47,562.30 L477.90,562.98 L479.34,563.65 L480.77,564.33 L482.21,565.01 L483.64,565.68 L485.08,566.36 L486.51,567.03 L487.95,567.71 L489.38,568.38 L490.82,569.06 L492.25,569.73" stroke="#ff0000"/>
</g>
<path d="M51.25,671.25 L54.05,669.50 V678.60" stroke="#000" stroke-width="1.20" fill="none" stroke-linejoin="round"/>
<text  x="58.55" y="678.60" font-size="14.00" textLength="8.30" lengthAdjust="spacingAndGlyphs" >0</text>
<text  x="66.85" y="669.70" font-size="10.00" textLength="8.70" lengthAdjust="spacingAndGlyphs" >-4</text>
<path d="M158.50,671.25 L161.30,669.50 V678.60" stroke="#000" stroke-width="1.20" fill="none" stroke-linejoin="round"/>
<text  x="165.80" y="678.60" font-size="14.00" textLength="8.30" lengthAdjust="spacingAndGlyphs" >0</text>
<text  x="174.10" y="669.70" font-size="10.00" textLength="8.70" lengthAdjust="spacingAndGlyphs" >-3</text>
<path d="M265.75,671.25 L268.55,669.50 V678.60" stroke="#000" stroke-width="1.20" fill="none" stroke-linejoin="round"/>
<text  x="273.05" y="678.60" font-size="14.00" textLength="8.30" lengthAdjust="spacingAndGlyphs" >0</text>
<text  x="281.35" y="669.70" font-size="10.00" textLength="8.70" lengthAdjust="spacingAndGlyphs" >-2</text>
<path d="M373.00,671.25 L375.80,669.50 V678.60" stroke="#000" stroke-width="1.20" fill="none" stroke-linejoin="round"/>
<text  x="380.30" y="678.60" font-size="14.00" textLength="8.30" lengthAdjust="spacingAndGlyphs" >0</text>
<text  x="388.60" y="669.70" font-size="10.00" textLength="8.70" lengthAdjust="spacingAndGlyphs" >-1</text>
<path d="M482.25,671.25 L485.05,669.50 V678.60" stroke="#000" stroke-width="1.20" fill="none" stroke-linejoin="round"/>
<text  x="489.55" y="678.60" font-size="14.00" textLength="8.30" lengthAdjust="spacingAndGlyphs" >0</text>
<text  x="498.05" y="669.70" font-size="10.00" textLength="5.60" lengthAdjust="spacingAndGlyphs" >0</text>
<path d="M26.70,654.25 L29.50,652.50 V661.60" stroke="#000" stroke-width="1.20" fill="none" stroke-linejoin="round"/>
<text  x="34.00" y="661.60" font-size="14.00" textLength="8.30" lengthAdjust="spacingAndGlyphs" >0</text>
<text  x="42.30" y="652.10" font-size="10.00" textLength="14.20" lengthAdjust="spacingAndGlyphs" >-12</text>
<path d="M26.70,603.75 L29.50,602.00 V611.10" stroke="#000" stroke-width="1.20" fill="none" stroke-linejoin="round"/>
<text  x="34.00" y="611.10" font-size="14.00" textLength="8.30" lengthAdjust="spacingAndGlyphs" >0</text>
<text  x="42.30" y="601.60" font-size="10.00" textLength="12.90" lengthAdjust="spacingAndGlyphs" >-11</text>
<path d="M26.70,553.25 L29.50,551.50 V560.60" stroke="#000" stroke-width="1.20" fill="none" stroke-linejoin="round"/>
<text  x="34.00" y="560.60" font-size="14.00" textLength="8.30" lengthAdjust="spacingAndGlyphs" >0</text>
<text  x="42.30" y="551.10" font-size="10.00" textLength="14.20" lengthAdjust="spacingAndGlyphs" >-10</text>
<path d="M32.20,502.75 L35.00,501.00 V510.10" stroke="#000" stroke-width="1.20" fill="none" stroke-linejoin="round"/>
<text  x="39.50" y="510.10" font-size="14.00" textLength="8.30" lengthAdjust="spacingAndGlyphs" >0</text>
<text  x="47.80" y="500.60" font-size="10.00" textLength="8.70" lengthAdjust="spacingAndGlyphs" >-9</text>
<path d="M32.20,452.25 L35.00,450.50 V459.60" stroke="#000" stroke-width="1.20" fill="none" stroke-linejoin="round"/>
<text  x="39.50" y="459.60" font-size="14.00" textLength="8.30" lengthAdjust="spacingAndGlyphs" >0</text>
<text  x="47.80" y="450.10" font-size="10.00" textLength="8.70" lengthAdjust="spacingAndGlyphs" >-8</text>
<path d="M32.20,401.75 L35.00,400.00 V409.10" stroke="#000" stroke-width="1.20" fill="none" stroke-linejoin="round"/>
<text  x="39.50" y="409.10" font-size="14.00" textLength="8.30" lengthAdjust="spacingAndGlyphs" >0</text>
<text  x="47.80" y="399.60" font-size="10.00" textLength="8.70" lengthAdjust="spacingAndGlyphs" >-7</text>
<path d="M32.20,351.25 L35.00,349.50 V358.60" stroke="#000" stroke-width="1.20" fill="none" stroke-linejoin="round"/>
<text  x="39.50" y="358.60" font-size="14.00" textLength="8.30" lengthAdjust="spacingAndGlyphs" >0</text>
<text  x="47.80" y="350.00" font-size="10.00" textLength="8.70" lengthAdjust="spacingAndGlyphs" >-6</text>
<text  x="169.50" y="696.50" font-size="16.00" textLength="84.10" lengthAdjust="spacingAndGlyphs" >Modulation</text>
<text  x="259.20" y="696.50" font-size="16.00" textLength="75.30" lengthAdjust="spacingAndGlyphs" >amplitude</text>
<text x="340.2" y="696.5" font-size="19" class="s" font-style="italic" textLength="11.2" lengthAdjust="spacingAndGlyphs" stroke="#000" stroke-width="0.25">η</text>
<text  x="351.30" y="700.80" font-size="12.00" textLength="8.00" lengthAdjust="spacingAndGlyphs" >0</text>
<text transform="translate(15.90,593.20) rotate(-90)" font-size="16.30" textLength="80.20" lengthAdjust="spacingAndGlyphs">Sensitivity</text>
<path d="M3.8,502.7 V506 H18.3 V502.7" stroke="#000" stroke-width="1.3" fill="none"/>
<path d="M5.6,498.5 L4.3,495.2 H16" stroke="#000" stroke-width="1.4" fill="none"/>
<path d="M16.3,489.3 L3.4,482.6" stroke="#000" stroke-width="1.35" fill="none"/>
<path d="M11.9,480.7 L10.8,478.7 L18.5,474.2 L3.2,468.5" stroke="#000" stroke-width="1.4" fill="none" stroke-linejoin="miter"/>
<text transform="translate(15.90,467.40) rotate(-90)" font-size="16.30" textLength="19.40" lengthAdjust="spacingAndGlyphs">Hz</text>
<path d="M3.8,445.9 V442.6 H18.3 V445.9" stroke="#000" stroke-width="1.3" fill="none"/>
<rect x="65.4" y="531.6" width="184.4" height="118.7" fill="#fff" stroke="#1a1a1a" stroke-width="1.1"/>
<path d="M70,543.10 H100.8" stroke="#000" stroke-width="1.8"/>
<text  x="107.90" y="547.60" font-size="13.80" textLength="34.70" lengthAdjust="spacingAndGlyphs" >Total</text>
<text  x="147.60" y="547.60" font-size="13.80" textLength="36.70" lengthAdjust="spacingAndGlyphs" >noise</text>
<path d="M70,562.20 H100.8" stroke="#0000ff" stroke-width="1.8"/>
<text  x="107.50" y="566.70" font-size="13.80" textLength="32.90" lengthAdjust="spacingAndGlyphs" >Shot</text>
<path d="M70,581.30 H100.8" stroke="#00c800" stroke-width="1.8"/>
<text  x="107.50" y="585.80" font-size="13.80" textLength="57.20" lengthAdjust="spacingAndGlyphs" >Johnson</text>
<path d="M70,600.40 H100.8" stroke="#a36600" stroke-width="1.8"/>
<text  x="107.60" y="604.90" font-size="13.80" textLength="22.70" lengthAdjust="spacingAndGlyphs" >RIN</text>
<path d="M70,619.50 H100.8" stroke="#ff0000" stroke-width="1.8"/>
<text  x="107.60" y="624.00" font-size="13.80" textLength="39.20" lengthAdjust="spacingAndGlyphs" >Diode</text>
<circle cx="85.2" cy="638.6" r="4.4" fill="none" stroke="#000" stroke-width="1.7"/>
<text  x="107.80" y="643.10" font-size="13.80" textLength="65.00" lengthAdjust="spacingAndGlyphs" >Measured</text>
<text  x="178.10" y="643.10" font-size="13.80" textLength="68.90" lengthAdjust="spacingAndGlyphs" >sensitivity</text>
<rect x="272.8" y="559.5" width="130.6" height="87.1" fill="#fff" stroke="#1a1a1a" stroke-width="1.1"/>
<text class="s" x="274.80" y="579.30" font-size="18.00" textLength="9.40" lengthAdjust="spacingAndGlyphs" >σ</text>
<text class="s" x="284.50" y="570.80" font-size="10.50" textLength="6.00" lengthAdjust="spacingAndGlyphs" >2</text>
<text class="s" x="294.10" y="579.30" font-size="16.00" textLength="9.30" lengthAdjust="spacingAndGlyphs" >=</text>
<text class="s" x="306.90" y="579.30" font-size="16.00" textLength="27.60" lengthAdjust="spacingAndGlyphs" >4·10</text>
<text class="s" x="335.50" y="570.20" font-size="10.50" textLength="9.90" lengthAdjust="spacingAndGlyphs" >-6</text>
<text class="s" x="275.00" y="601.70" font-size="16.00" textLength="27.10" lengthAdjust="spacingAndGlyphs" >RIN</text>
<text class="s" x="307.00" y="601.70" font-size="16.00" textLength="8.80" lengthAdjust="spacingAndGlyphs" >=</text>
<text class="s" x="319.80" y="601.70" font-size="16.00" textLength="27.00" lengthAdjust="spacingAndGlyphs" >4·10</text>
<text class="s" x="347.50" y="592.20" font-size="10.50" textLength="10.10" lengthAdjust="spacingAndGlyphs" >-8</text>
<text class="s" x="361.00" y="601.70" font-size="16.00" textLength="13.00" lengthAdjust="spacingAndGlyphs" >1/</text>
<path d="M374.4,596.4 L376.0,595.5" stroke="#000" stroke-width="0.9" fill="none"/><path d="M375.9,595.4 L378.2,601.0" stroke="#000" stroke-width="1.7" fill="none"/><path d="M378.2,601.6 L382.7,587.2" stroke="#000" stroke-width="0.9" fill="none"/>
<text class="s" x="384.00" y="601.70" font-size="16.00" textLength="17.50" lengthAdjust="spacingAndGlyphs" >Hz</text>
<text class="s" x="275.10" y="617.90" font-size="16.00" textLength="5.40" lengthAdjust="spacingAndGlyphs" >I</text>
<text class="s" x="280.50" y="620.90" font-size="10.50" textLength="13.60" lengthAdjust="spacingAndGlyphs" >out</text>
<text class="s" x="298.30" y="617.90" font-size="16.00" textLength="10.20" lengthAdjust="spacingAndGlyphs" >=</text>
<text class="s" x="312.00" y="617.90" font-size="16.00" textLength="20.90" lengthAdjust="spacingAndGlyphs" >6.0</text>
<text class="s" x="336.60" y="617.90" font-size="16.00" textLength="25.20" lengthAdjust="spacingAndGlyphs" >mW</text>
<text class="s" x="274.70" y="640.20" font-size="16.00" textLength="11.80" lengthAdjust="spacingAndGlyphs" >G</text>
<text class="s" x="290.00" y="640.20" font-size="16.00" textLength="10.10" lengthAdjust="spacingAndGlyphs" >=</text>
<text class="s" x="303.50" y="640.20" font-size="16.00" textLength="39.80" lengthAdjust="spacingAndGlyphs" >0.7·10</text>
<text class="s" x="343.90" y="631.20" font-size="10.50" textLength="6.00" lengthAdjust="spacingAndGlyphs" >5</text>
<text class="s" x="354.00" y="640.20" font-size="16.00" textLength="28.10" lengthAdjust="spacingAndGlyphs" >V/W</text>
</svg></body></html>
